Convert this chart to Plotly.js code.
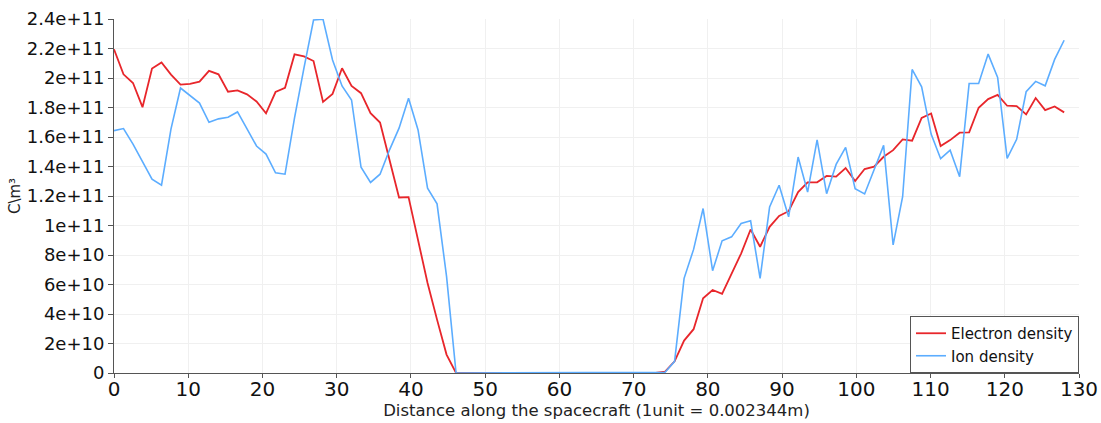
<!DOCTYPE html>
<html>
<head>
<meta charset="utf-8">
<script src="https://cdn.plot.ly/plotly-3.0.1.min.js"></script>
<style>html,body{margin:0;padding:0;background:#fff;}#chart{width:1101px;height:423px;}</style>
</head>
<body>
<div id="chart"></div>
<script>
// Distance along the spacecraft (units)
const distance = [
  0, 1.28, 2.56, 3.84, 5.12, 6.4, 7.68, 8.96, 10.24, 11.52,
  12.8, 14.08, 15.36, 16.64, 17.92, 19.2, 20.48, 21.76, 23.04, 24.32,
  25.6, 26.88, 28.16, 29.44, 30.72, 32, 33.28, 34.56, 35.84, 37.12,
  38.4, 39.68, 40.96, 42.24, 43.52, 44.8, 46.08, 47.36, 48.64, 49.92,
  51.2, 52.48, 53.76, 55.04, 56.32, 57.6, 58.88, 60.16, 61.44, 62.72,
  64, 65.28, 66.56, 67.84, 69.12, 70.4, 71.68, 72.96, 74.24, 75.52,
  76.8, 78.08, 79.36, 80.64, 81.92, 83.2, 84.48, 85.76, 87.04, 88.32,
  89.6, 90.88, 92.16, 93.44, 94.72, 96, 97.28, 98.56, 99.84, 101.12,
  102.4, 103.68, 104.96, 106.24, 107.52, 108.8, 110.08, 111.36, 112.64, 113.92,
  115.2, 116.48, 117.76, 119.04, 120.32, 121.6, 122.88, 124.16, 125.44, 126.72,
  128
];

// Electron density (C/m^3)
const electronDensity = [
  21.95e10, 20.25e10, 19.66e10, 18.02e10, 20.64e10, 21.05e10, 20.23e10, 19.55e10, 19.6e10, 19.75e10,
  20.48e10, 20.25e10, 19.07e10, 19.16e10, 18.89e10, 18.41e10, 17.61e10, 19.05e10, 19.34e10, 21.6e10,
  21.47e10, 21.15e10, 18.38e10, 18.92e10, 20.66e10, 19.46e10, 18.97e10, 17.61e10, 16.98e10, 14.45e10,
  11.9e10, 11.92e10, 9.03e10, 6.1e10, 3.62e10, 1.25e10, 0, 0, 0, 0,
  0, 0, 0, 0, 0, 0, 0, 0, 0, 0,
  0, 0, 0, 0, 0, 0, 0, 0, 0.1e10, 0.79e10,
  2.2e10, 2.97e10, 5.07e10, 5.63e10, 5.36e10, 6.76e10, 8.1e10, 9.73e10, 8.56e10, 9.91e10,
  10.65e10, 10.97e10, 12.27e10, 12.93e10, 12.93e10, 13.36e10, 13.31e10, 13.9e10, 13.02e10, 13.83e10,
  13.99e10, 14.66e10, 15.11e10, 15.84e10, 15.75e10, 17.3e10, 17.6e10, 15.39e10, 15.79e10, 16.29e10,
  16.31e10, 17.98e10, 18.57e10, 18.86e10, 18.12e10, 18.1e10, 17.53e10, 18.64e10, 17.82e10, 18.07e10,
  17.67e10
];

// Ion density (C/m^3)
const ionDensity = [
  16.43e10, 16.57e10, 15.52e10, 14.34e10, 13.14e10, 12.73e10, 16.55e10, 19.32e10, 18.82e10, 18.3e10,
  17.0e10, 17.23e10, 17.34e10, 17.7e10, 16.55e10, 15.39e10, 14.84e10, 13.57e10, 13.48e10, 17.3e10,
  20.7e10, 23.93e10, 23.98e10, 21.22e10, 19.46e10, 18.51e10, 13.95e10, 12.92e10, 13.48e10, 15.13e10,
  16.6e10, 18.63e10, 16.48e10, 12.53e10, 11.47e10, 6.55e10, 0, 0, 0, 0,
  0, 0, 0, 0, 0, 0, 0, 0, 0, 0,
  0, 0, 0, 0, 0, 0, 0, 0, 0.05e10, 0.79e10,
  6.42e10, 8.38e10, 11.15e10, 6.94e10, 8.96e10, 9.23e10, 10.14e10, 10.32e10, 6.42e10, 11.26e10,
  12.73e10, 10.59e10, 14.64e10, 12.27e10, 15.8e10, 12.16e10, 14.14e10, 15.3e10, 12.5e10, 12.14e10,
  13.76e10, 15.43e10, 8.68e10, 11.95e10, 20.58e10, 19.4e10, 16.2e10, 14.53e10, 15.11e10, 13.31e10,
  19.63e10, 19.63e10, 21.62e10, 20.04e10, 14.55e10, 15.84e10, 19.07e10, 19.77e10, 19.47e10, 21.26e10,
  22.56e10
];

const seriesNames = ['Electron density', 'Ion density'];
const yTickVals = [0, 2e10, 4e10, 6e10, 8e10, 1e11, 1.2e11, 1.4e11, 1.6e11, 1.8e11, 2e11, 2.2e11, 2.4e11];
const yTickText = ['0', '2e+10', '4e+10', '6e+10', '8e+10', '1e+11', '1.2e+11', '1.4e+11', '1.6e+11', '1.8e+11', '2e+11', '2.2e+11', '2.4e+11'];
const xTickVals = [0, 10, 20, 30, 40, 50, 60, 70, 80, 90, 100, 110, 120, 130];

const FONT = 'DejaVu Sans, sans-serif';

const traces = [
  {x: distance, y: electronDensity, name: seriesNames[0], type: 'scatter', mode: 'lines',
   line: {color: '#e8262b', width: 1.8}},
  {x: distance, y: ionDensity, name: seriesNames[1], type: 'scatter', mode: 'lines',
   line: {color: '#5cadff', width: 1.6}}
];

const layout = {
  width: 1101, height: 423,
  margin: {l: 114, r: 22, t: 19, b: 50},
  paper_bgcolor: '#fff', plot_bgcolor: '#fff',
  font: {family: FONT, color: '#111'},
  showlegend: true,
  legend: {x: 1, xanchor: 'right', y: 0, yanchor: 'bottom', bgcolor: '#fff',
           bordercolor: '#555', borderwidth: 1, font: {size: 15, family: FONT, color: '#111'},
           tracegroupgap: 0},
  xaxis: {
    range: [0, 130], tickvals: xTickVals, ticktext: xTickVals.map(String),
    showgrid: true, gridcolor: '#f0f0f0', gridwidth: 1,
    zeroline: false, showline: true, linecolor: '#555', linewidth: 1,
    ticks: 'outside', ticklen: 4, tickcolor: '#555', ticklabelstandoff: -6,
    tickfont: {size: 20, family: FONT, color: '#111'},
    title: {text: 'Distance along the spacecraft (1unit = 0.002344m)', font: {size: 16.5, family: FONT, color: '#222'}, standoff: 0}
  },
  yaxis: {
    range: [0, 2.4e11], tickvals: yTickVals, ticktext: yTickText,
    showgrid: true, gridcolor: '#f0f0f0', gridwidth: 1,
    zeroline: false, showline: true, linecolor: '#555', linewidth: 1,
    ticks: 'outside', ticklen: 5, tickcolor: '#555',
    tickfont: {size: 18, family: FONT, color: '#111'},
    title: {text: 'C\\m³', font: {size: 15, family: FONT, color: '#222'}, standoff: 2}
  }
};

Plotly.newPlot('chart', traces, layout, {displayModeBar: false, staticPlot: true});
</script>
</body>
</html>
